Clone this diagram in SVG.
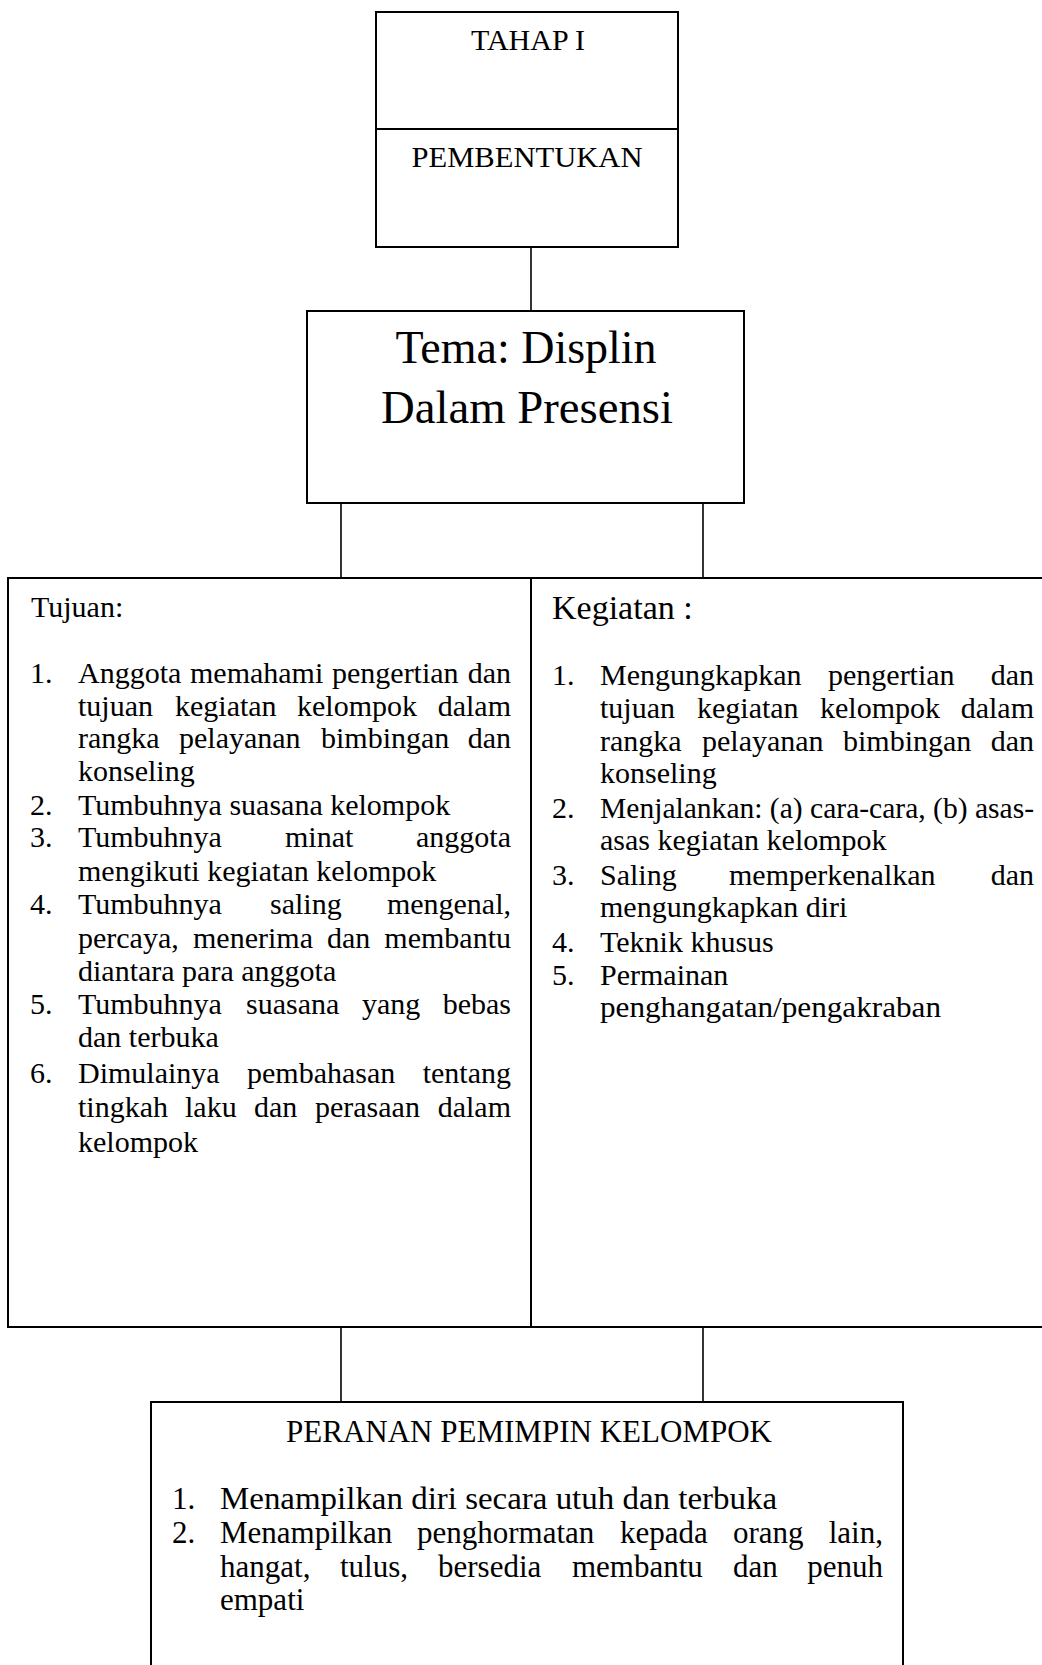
<svg xmlns="http://www.w3.org/2000/svg" width="1042" height="1665" viewBox="0 0 1042 1665">
<style>
  .box { fill: #ffffff; stroke: #000000; stroke-width: 2; }
  .conn { stroke: #000000; stroke-width: 1.6; fill: none; }
  text { font-family: "Liberation Serif", "Times New Roman", serif; fill: #000000; }
  .t30 { font-size: 30px; }
  .t31 { font-size: 31px; }
  .t34 { font-size: 34px; }
  .t46 { font-size: 46px; }
  .mid { text-anchor: middle; }
</style>
<rect width="1042" height="1665" fill="#ffffff"/>

<g id="connectors">
  <line class="conn" x1="531" y1="247" x2="531" y2="311"/>
  <line class="conn" x1="341" y1="503" x2="341" y2="578"/>
  <line class="conn" x1="703" y1="503" x2="703" y2="578"/>
  <line class="conn" x1="341" y1="1327" x2="341" y2="1402"/>
  <line class="conn" x1="703" y1="1327" x2="703" y2="1402"/>
</g>

<g id="tahap">
  <rect class="box" x="376" y="12" width="302" height="235"/>
  <line class="conn" x1="376" y1="129" x2="678" y2="129" style="stroke-width:2"/>
  <text class="t30 mid" x="528" y="50">TAHAP I</text>
  <text class="t30 mid" x="527" y="167" textLength="231" lengthAdjust="spacingAndGlyphs">PEMBENTUKAN</text>
</g>

<g id="tema">
  <rect class="box" x="307" y="311" width="437" height="192"/>
  <text class="t46 mid" x="526" y="363">Tema: Displin</text>
  <text class="t46 mid" x="527" y="423" textLength="292" lengthAdjust="spacingAndGlyphs">Dalam Presensi</text>
</g>

<g id="tujuan-kegiatan">
  <rect class="box" x="8" y="578" width="1060" height="749"/>
  <line class="conn" x1="531" y1="578" x2="531" y2="1327" style="stroke-width:2"/>
</g>

<g id="tujuan">
  <text class="t30" x="31" y="617">Tujuan:</text>
  <text class="t30" x="30" y="683">1.</text>
  <text class="t30" y="683"><tspan x="78">Anggota </tspan><tspan x="190">memahami </tspan><tspan x="332">pengertian </tspan><tspan x="511" text-anchor="end">dan</tspan></text>
  <text class="t30" y="716"><tspan x="78">tujuan </tspan><tspan x="175">kegiatan </tspan><tspan x="297">kelompok </tspan><tspan x="511" text-anchor="end">dalam</tspan></text>
  <text class="t30" y="748"><tspan x="78">rangka </tspan><tspan x="179">pelayanan </tspan><tspan x="321">bimbingan </tspan><tspan x="511" text-anchor="end">dan</tspan></text>
  <text class="t30" x="78" y="781">konseling</text>
  <text class="t30" x="30" y="815">2.</text>
  <text class="t30" x="78" y="815">Tumbuhnya suasana kelompok</text>
  <text class="t30" x="30" y="847">3.</text>
  <text class="t30" y="847"><tspan x="78">Tumbuhnya </tspan><tspan x="285">minat </tspan><tspan x="511" text-anchor="end">anggota</tspan></text>
  <text class="t30" x="78" y="881">mengikuti kegiatan kelompok</text>
  <text class="t30" x="30" y="914">4.</text>
  <text class="t30" y="914"><tspan x="78">Tumbuhnya </tspan><tspan x="270">saling </tspan><tspan x="511" text-anchor="end">mengenal,</tspan></text>
  <text class="t30" y="948"><tspan x="78">percaya, </tspan><tspan x="193">menerima </tspan><tspan x="327">dan </tspan><tspan x="511" text-anchor="end">membantu</tspan></text>
  <text class="t30" x="78" y="981">diantara para anggota</text>
  <text class="t30" x="30" y="1014">5.</text>
  <text class="t30" y="1014"><tspan x="78">Tumbuhnya </tspan><tspan x="246">suasana </tspan><tspan x="362">yang </tspan><tspan x="511" text-anchor="end">bebas</tspan></text>
  <text class="t30" x="78" y="1047">dan terbuka</text>
  <text class="t30" x="30" y="1083">6.</text>
  <text class="t30" y="1083"><tspan x="78">Dimulainya </tspan><tspan x="247">pembahasan </tspan><tspan x="511" text-anchor="end">tentang</tspan></text>
  <text class="t30" y="1117"><tspan x="78">tingkah </tspan><tspan x="185">laku </tspan><tspan x="254">dan </tspan><tspan x="315">perasaan </tspan><tspan x="511" text-anchor="end">dalam</tspan></text>
  <text class="t30" x="78" y="1152">kelompok</text>
</g>

<g id="kegiatan">
  <text class="t34" x="552" y="619">Kegiatan :</text>
  <text class="t30" x="552" y="685">1.</text>
  <text class="t30" y="685"><tspan x="600">Mengungkapkan </tspan><tspan x="828">pengertian </tspan><tspan x="1034" text-anchor="end">dan</tspan></text>
  <text class="t30" y="718"><tspan x="600">tujuan </tspan><tspan x="697">kegiatan </tspan><tspan x="820">kelompok </tspan><tspan x="1034" text-anchor="end">dalam</tspan></text>
  <text class="t30" y="751"><tspan x="600">rangka </tspan><tspan x="702">pelayanan </tspan><tspan x="843">bimbingan </tspan><tspan x="1034" text-anchor="end">dan</tspan></text>
  <text class="t30" x="600" y="783">konseling</text>
  <text class="t30" x="552" y="818">2.</text>
  <text class="t30" x="600" y="818" textLength="434" lengthAdjust="spacingAndGlyphs">Menjalankan: (a) cara-cara, (b) asas-</text>
  <text class="t30" x="600" y="850">asas kegiatan kelompok</text>
  <text class="t30" x="552" y="885">3.</text>
  <text class="t30" y="885"><tspan x="600">Saling </tspan><tspan x="729">memperkenalkan </tspan><tspan x="1034" text-anchor="end">dan</tspan></text>
  <text class="t30" x="600" y="917">mengungkapkan diri</text>
  <text class="t30" x="552" y="952">4.</text>
  <text class="t30" x="600" y="952">Teknik khusus</text>
  <text class="t30" x="552" y="985">5.</text>
  <text class="t30" x="600" y="985">Permainan</text>
  <text class="t30" x="600" y="1017" textLength="341" lengthAdjust="spacingAndGlyphs">penghangatan/pengakraban</text>
</g>

<g id="peranan">
  <rect class="box" x="151" y="1402" width="752" height="300"/>
  <text class="t31 mid" x="529" y="1442" textLength="486" lengthAdjust="spacingAndGlyphs">PERANAN PEMIMPIN KELOMPOK</text>
  <text class="t31" x="172" y="1509">1.</text>
  <text class="t31" x="220" y="1509" textLength="557" lengthAdjust="spacingAndGlyphs">Menampilkan diri secara utuh dan terbuka</text>
  <text class="t31" x="172" y="1543">2.</text>
  <text class="t31" y="1543"><tspan x="220">Menampilkan </tspan><tspan x="417">penghormatan </tspan><tspan x="620">kepada </tspan><tspan x="733">orang </tspan><tspan x="883" text-anchor="end">lain,</tspan></text>
  <text class="t31" y="1577"><tspan x="220">hangat, </tspan><tspan x="340">tulus, </tspan><tspan x="438">bersedia </tspan><tspan x="572">membantu </tspan><tspan x="733">dan </tspan><tspan x="883" text-anchor="end">penuh</tspan></text>
  <text class="t31" x="220" y="1610">empati</text>
</g>
</svg>
